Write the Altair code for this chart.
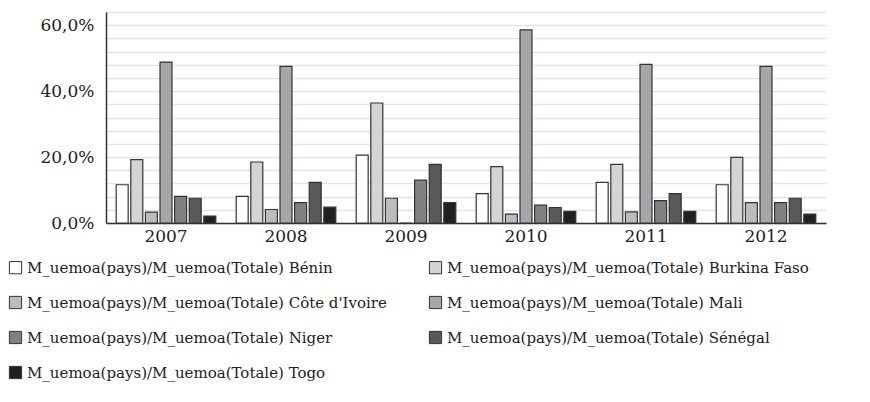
import altair as alt
import pandas as pd

years = ["2007", "2008", "2009", "2010", "2011", "2012"]
prefix = "M_uemoa(pays)/M_uemoa(Totale) "
countries = ["Bénin", "Burkina Faso", "Côte d'Ivoire", "Mali", "Niger", "Sénégal", "Togo"]
benin = [11.6, 8.1, 20.6, 8.9, 12.3, 11.6]
burkina = [19.2, 18.5, 36.4, 17.1, 17.8, 19.9]
cote_ivoire = [3.3, 4.1, 7.5, 2.7, 3.4, 6.2]
mali = [48.8, 47.5, 0.0, 58.6, 48.1, 47.5]
niger = [8.1, 6.2, 13.0, 5.4, 6.8, 6.2]
senegal = [7.5, 12.3, 17.8, 4.7, 8.9, 7.5]
togo = [2.1, 4.8, 6.2, 3.5, 3.5, 2.7]
colors = ["#ffffff", "#d3d4d6", "#bbbcbf", "#a5a6a9", "#808184", "#58595b", "#231f20"]
y_ticks = [i * 0.04 for i in range(17)]

series = [benin, burkina, cote_ivoire, mali, niger, senegal, togo]
rows = []
for c, vals in zip(countries, series):
    for y, v in zip(years, vals):
        rows.append({"year": y, "series": prefix + c, "value": v / 100.0})
df = pd.DataFrame(rows)
labels = [prefix + c for c in countries]

FONT = "DejaVu Serif"

chart = alt.Chart(df).mark_bar(stroke="#333333", strokeWidth=1.2).encode(
    x=alt.X("year:N", title=None, sort=years,
            scale=alt.Scale(paddingInner=0.17, paddingOuter=0.085),
            axis=alt.Axis(labelAngle=0, ticks=False, domain=True, domainColor="#333333",
                          domainWidth=1.5, labelFontSize=17, labelFont=FONT,
                          labelColor="#222222", labelPadding=5)),
    xOffset=alt.XOffset("series:N", sort=labels,
                        scale=alt.Scale(paddingInner=0.18, paddingOuter=0.0)),
    y=alt.Y("value:Q", title=None,
            scale=alt.Scale(domain=[0, 0.64], nice=False),
            axis=alt.Axis(values=y_ticks,
                          labelExpr="abs(datum.value*100 % 20) < 0.01 || abs(datum.value*100 % 20) > 19.99 ? replace(format(datum.value, '.1%'), '.', ',') : ''",
                          ticks=False, domain=True, domainColor="#333333", domainWidth=1.5,
                          gridColor="#e3e3e3", gridWidth=1.5,
                          labelFontSize=17, labelFont=FONT, labelColor="#222222",
                          labelPadding=12)),
    fill=alt.Fill("series:N", sort=labels,
                  scale=alt.Scale(domain=labels, range=colors),
                  legend=alt.Legend(title=None, orient="none", legendX=-98, legendY=248,
                                    columns=2, direction="horizontal",
                                    columnPadding=40, rowPadding=18,
                                    symbolType="square", symbolSize=150,
                                    symbolStrokeColor="#333333", symbolStrokeWidth=1,
                                    labelFontSize=15, labelFont=FONT, labelColor="#222222",
                                    labelLimit=500)),
).properties(
    width=720, height=211, padding={"left": 98, "top": 4, "right": 30, "bottom": 160},
    autosize=alt.AutoSizeParams(type="none"),
).configure(font=FONT).configure_view(stroke=None)

chart.save("out.html", embed_options={"renderer": "svg", "actions": False})
